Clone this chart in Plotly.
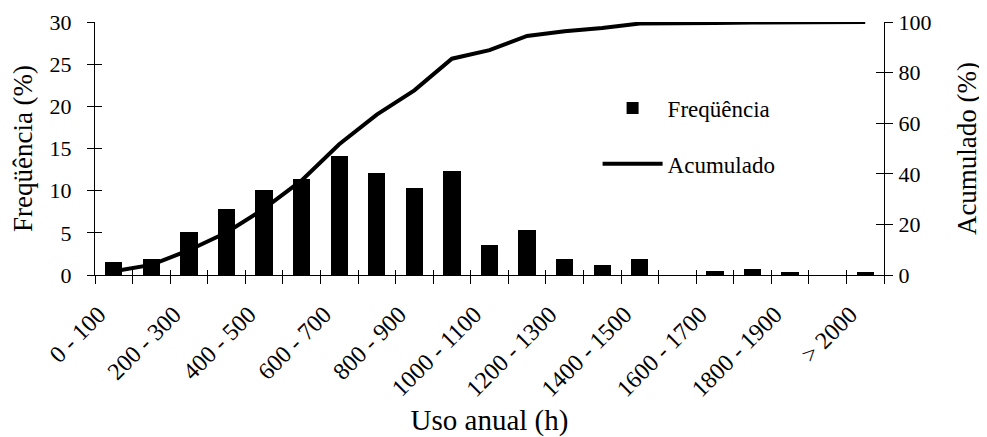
import plotly.graph_objects as go

categories = ["0 - 100", "100 - 200", "200 - 300", "300 - 400", "400 - 500", "500 - 600",
              "600 - 700", "700 - 800", "800 - 900", "900 - 1000", "1000 - 1100",
              "1100 - 1200", "1200 - 1300", "1300 - 1400", "1400 - 1500", "1500 - 1600",
              "1600 - 1700", "1700 - 1800", "1800 - 1900", "1900 - 2000", "> 2000"]
frequencia = [1.5, 1.9, 5.1, 7.8, 10.1, 11.4, 14.1, 12.1, 10.3, 12.3, 3.5,
              5.3, 1.9, 1.2, 1.9, 0.0, 0.5, 0.7, 0.3, 0.0, 0.3]
acumulado = [1.5, 4.0, 9.8, 16.8, 26.2, 37.4, 51.7, 63.4, 73.0, 85.5, 88.9,
             94.5, 96.3, 97.6, 99.4, 99.4, 99.6, 99.8, 99.9, 99.9, 100.0]
tick_labels = categories[::2]
freq_ticks = [0, 5, 10, 15, 20, 25, 30]
acum_ticks = [0, 20, 40, 60, 80, 100]

FONT = "Liberation Serif, Times New Roman, Times, serif"
n = len(categories)
xr = [-0.5, n - 0.5]
boundaries = [i - 0.5 for i in range(n + 1)]

fig = go.Figure()
fig.add_trace(go.Bar(x=categories, y=frequencia, name="Freqüência",
                     marker=dict(color="black", line=dict(width=0)), width=0.46,
                     legendgroup="a", xaxis="x", yaxis="y"))
fig.add_trace(go.Scatter(x=categories, y=acumulado, name="Acumulado", mode="lines",
                         line=dict(color="black", width=4), legendgroup="b",
                         xaxis="x", yaxis="y2"))
# invisible helper traces so the tick-only overlay axes get drawn
for xa, ya in [("x2", "y"), ("x3", "y"), ("x2", "y3"), ("x2", "y4")]:
    fig.add_trace(go.Scatter(x=[0], y=[None], xaxis=xa, yaxis=ya, showlegend=False,
                             hoverinfo="skip", mode="lines"))

tick_only = dict(showticklabels=False, showline=False, showgrid=False, zeroline=False,
                 tickcolor="black", tickwidth=1, automargin=False)
tfont = dict(family=FONT, size=22, color="black")

fig.update_layout(
    width=979, height=429,
    margin=dict(l=87, r=103, t=14, b=162, autoexpand=False),
    paper_bgcolor="white", plot_bgcolor="white",
    font=dict(family=FONT, color="black"),
    bargap=0,
    xaxis=dict(type="category", categoryorder="array", categoryarray=categories,
               range=xr, tickmode="array", tickvals=tick_labels, ticktext=tick_labels,
               ticks="", tickangle=-45, tickfont=dict(family=FONT, size=24, color="black"),
               ticklabelshift=-15, ticklabelstandoff=15, automargin=False,
               showline=True, linecolor="black", linewidth=1, showgrid=False, zeroline=False,
               title=dict(text="Uso anual (h)", font=dict(family=FONT, size=29), standoff=11)),
    xaxis2=dict(type="linear", overlaying="x", anchor="y", side="bottom", range=xr,
                tickmode="array", tickvals=boundaries, ticks="outside", ticklen=8, **tick_only),
    xaxis3=dict(type="linear", overlaying="x", anchor="y", side="bottom", range=xr,
                tickmode="array", tickvals=boundaries, ticks="inside", ticklen=5, **tick_only),
    yaxis=dict(range=[0, 30], tickmode="array", tickvals=freq_ticks, ticks="outside",
               ticklen=7, tickcolor="black", tickfont=tfont, ticklabelstandoff=11,
               automargin=False,
               showline=True, linecolor="black", linewidth=1, showgrid=False, zeroline=False,
               title=dict(text="Freqüência (%)", font=dict(family=FONT, size=27), standoff=11)),
    yaxis2=dict(range=[0, 100], tickmode="array", tickvals=acum_ticks, overlaying="y",
                side="right", anchor="x", ticks="outside", ticklen=8, tickcolor="black",
                tickfont=tfont, ticklabelstandoff=1, automargin=False, showline=True,
                linecolor="black", linewidth=1, showgrid=False, zeroline=False,
                title=dict(text="Acumulado (%)", font=dict(family=FONT, size=27), standoff=26)),
    yaxis3=dict(range=[0, 30], tickmode="array", tickvals=freq_ticks, overlaying="y",
                anchor="x", side="left", ticks="inside", ticklen=7, **tick_only),
    yaxis4=dict(range=[0, 100], tickmode="array", tickvals=acum_ticks, overlaying="y",
                anchor="x", side="right", ticks="inside", ticklen=8, **tick_only),
    showlegend=True,
    legend=dict(x=0.637, y=0.745, xanchor="left", yanchor="top", bgcolor="rgba(0,0,0,0)",
                font=dict(family=FONT, size=23, color="black"), tracegroupgap=23,
                itemwidth=60),
)

fig.write_html("out.html")
